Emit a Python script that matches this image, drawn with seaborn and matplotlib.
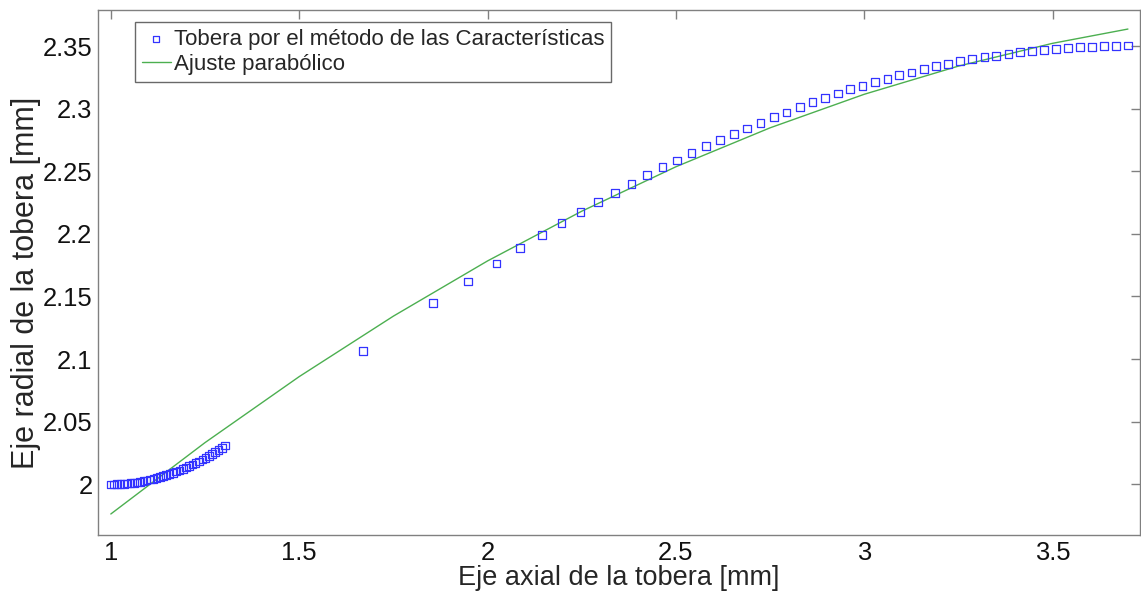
import matplotlib
matplotlib.use("Agg")
import matplotlib.pyplot as plt
import seaborn as sns
import pandas as pd

# Contorno de la tobera obtenido por el método de las características
x_moc = [
    1.000, 1.009, 1.017, 1.026, 1.035, 1.043, 1.052, 1.061, 1.069, 1.078,
    1.087, 1.095, 1.104, 1.113, 1.121, 1.130, 1.139, 1.147, 1.156, 1.165,
    1.173, 1.182, 1.191, 1.199, 1.208, 1.217, 1.225, 1.234, 1.243, 1.251,
    1.260, 1.269, 1.277, 1.286, 1.295, 1.303,
    1.669, 1.856, 1.948, 2.024, 2.087, 2.144, 2.196, 2.247, 2.293, 2.339,
    2.382, 2.424, 2.464, 2.503, 2.541, 2.580, 2.617, 2.654, 2.689, 2.725,
    2.760, 2.794, 2.829, 2.863, 2.896, 2.931, 2.963, 2.995, 3.029, 3.062,
    3.093, 3.126, 3.159, 3.190, 3.223, 3.254, 3.286, 3.319, 3.350, 3.383,
    3.414, 3.446, 3.478, 3.509, 3.541, 3.573, 3.604, 3.636, 3.669, 3.701,
]
y_moc = [
    2.0000, 2.0000, 2.0001, 2.0002, 2.0004, 2.0006, 2.0009, 2.0012, 2.0016, 2.0020,
    2.0025, 2.0031, 2.0037, 2.0043, 2.0050, 2.0057, 2.0065, 2.0073, 2.0082, 2.0091,
    2.0101, 2.0111, 2.0122, 2.0133, 2.0145, 2.0157, 2.0170, 2.0183, 2.0197, 2.0211,
    2.0226, 2.0241, 2.0257, 2.0273, 2.0290, 2.0310,
    2.1065, 2.1448, 2.1621, 2.1765, 2.1885, 2.1991, 2.2087, 2.2177, 2.2257, 2.2329,
    2.2398, 2.2468, 2.2532, 2.2585, 2.2646, 2.2702, 2.2750, 2.2798, 2.2843, 2.2888,
    2.2934, 2.2971, 2.3011, 2.3051, 2.3083, 2.3120, 2.3155, 2.3179, 2.3211, 2.3237,
    2.3267, 2.3288, 2.3315, 2.3339, 2.3355, 2.3379, 2.3395, 2.3413, 2.3423, 2.3439,
    2.3451, 2.3461, 2.3471, 2.3477, 2.3487, 2.3495, 2.3495, 2.3501, 2.3503, 2.3506,
]

# Curva del ajuste parabólico
x_fit = [1.00, 1.25, 1.50, 1.75, 2.00, 2.25, 2.50, 2.75, 3.00, 3.25, 3.50, 3.70]
y_fit = [1.9763, 2.0333, 2.0860, 2.1343, 2.1784, 2.2181, 2.2536, 2.2847,
         2.3115, 2.3340, 2.3522, 2.3636]

x_ticks = [1, 1.5, 2, 2.5, 3, 3.5]
x_tick_labels = ["1", "1.5", "2", "2.5", "3", "3.5"]
y_ticks = [2, 2.05, 2.1, 2.15, 2.2, 2.25, 2.3, 2.35]
y_tick_labels = ["2", "2.05", "2.1", "2.15", "2.2", "2.25", "2.3", "2.35"]

sns.set_theme(style="white")
plt.rcParams["font.family"] = ["Liberation Sans", "DejaVu Sans"]

df_moc = pd.DataFrame({"x": x_moc, "y": y_moc})
df_fit = pd.DataFrame({"x": x_fit, "y": y_fit})

fig = plt.figure(figsize=(11.41, 5.96), dpi=100)
ax = fig.add_axes([0.0859, 0.1023, 0.9132, 0.8809])

sns.scatterplot(data=df_moc, x="x", y="y", ax=ax, marker="s", s=30,
                facecolor="none", edgecolor="#3333ff", linewidth=0.9,
                label="Tobera por el método de las Características", zorder=3)
sns.lineplot(data=df_fit, x="x", y="y", ax=ax, color="#4caf50", linewidth=1.0,
             label="Ajuste parabólico", zorder=2)

ax.set_xlim(0.966, 3.732)
ax.set_ylim(1.9595, 2.3788)
ax.set_xticks(x_ticks)
ax.set_xticklabels(x_tick_labels)
ax.set_yticks(y_ticks)
ax.set_yticklabels(y_tick_labels)

ax.tick_params(axis="both", which="both", direction="in", length=6.5, width=1,
               color="#808080", labelsize=18.4, labelcolor="#111111",
               top=True, right=True, pad=4)
for sp in ax.spines.values():
    sp.set_color("#808080")
    sp.set_linewidth(1)
    sp.set_visible(True)

ax.set_xlabel("Eje axial de la tobera [mm]", fontsize=19.5, labelpad=0)
ax.set_ylabel("Eje radial de la tobera [mm]", fontsize=22)
ax.yaxis.set_label_coords(-0.055, 0.48)

leg = ax.legend(loc="upper left", bbox_to_anchor=(0.0355, 0.977), fontsize=16,
                frameon=True, fancybox=False, edgecolor="#444444",
                borderpad=0.3, labelspacing=0.2, handlelength=1.3,
                handletextpad=0.15, borderaxespad=0, markerscale=0.75)
leg.get_frame().set_linewidth(1)

fig.savefig("out.png", dpi=100)
